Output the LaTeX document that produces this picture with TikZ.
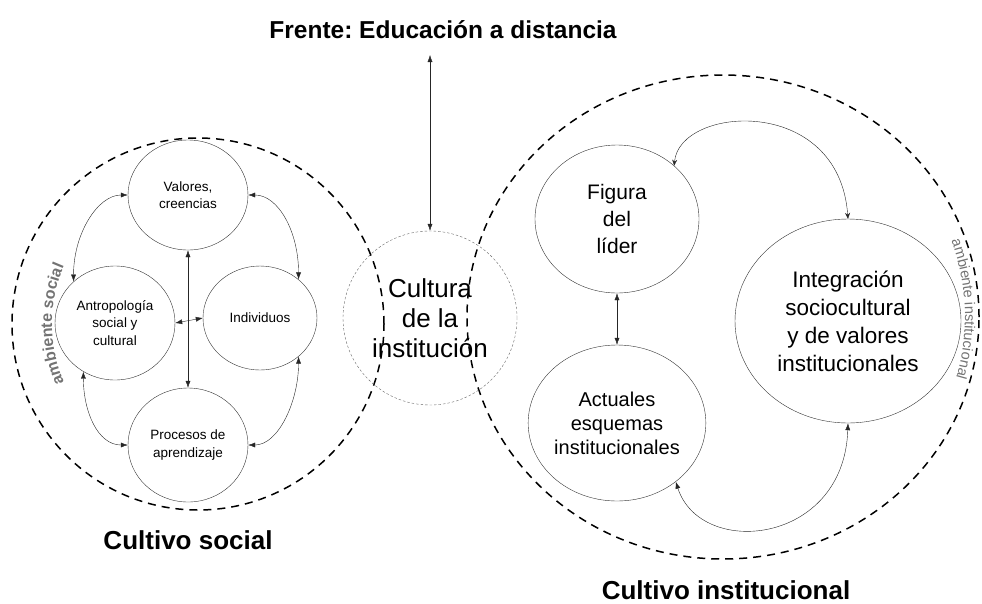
\documentclass[tikz,border=0pt]{standalone}
\usepackage{fontspec}
\setmainfont{Liberation Sans}
\usetikzlibrary{shapes.geometric,arrows.meta,decorations.text}
\newcommand{\fs}[2]{\fontsize{#1}{#2}\selectfont} % Size and leading.
\frenchspacing

\begin{document}
\begin{tikzpicture}[x=1pt,y=-1pt,
  bubble/.style={draw=black!80,ellipse,inner sep=0pt,align=center},
  zone/.style={draw,line width=1.5pt,dash pattern=on 8pt off 6pt,inner sep=0pt},
  link/.style={<->,>={Latex[length=7pt,width=5pt]},black!85},
  thinlink/.style={<->,>={Stealth[length=6pt,width=5pt]},black!85}]
\useasboundingbox (0,0) rectangle (982,603);
% Ambientes.
\node[zone,circle,minimum size=372pt] (soc) at (198,324) {};
\node[zone,ellipse,minimum width=512pt,minimum height=484pt] (inst) at (723,317) {};
\path[decorate,decoration={text along path,text align=center,
  text={|\bfseries\fs{16}{16}\color{black!55}|ambiente social}}]
  (soc.center) ++(154:146) arc[start angle=154,end angle=206,radius=146];
\path[decorate,decoration={text along path,text align=center,
  text={|\fs{14.5}{15}\color{black!55}|ambiente institucional}}]
  (inst.center) ++(-22:242 and 229) arc[start angle=-22,end angle=18,x radius=242,y radius=229];
% Frente y cultura.
\node[anchor=base,font=\bfseries\fs{24.5}{28}] (frente) at (443,38) {Frente: Educación a distancia};
\node[circle,draw=black!60,dash pattern=on 2.5pt off 2pt,minimum size=174pt,inner sep=0pt,
  align=center,font=\fs{26}{30}] (cult) at (430,318) {Cultura\\de la\\institución};
\coordinate (tope) at (430,55);
\draw[link] (tope) -- (cult.north);
% Cultivo social.
\node[bubble,minimum width=120pt,minimum height=110pt,font=\fs{13.5}{17}] (val) at (188,195) {Valores,\\creencias};
\node[bubble,minimum width=120pt,minimum height=114pt,font=\fs{13.5}{17.5}] (ant) at (115,323) {Antropología\\social y\\cultural};
\node[bubble,minimum width=114pt,minimum height=104pt,font=\fs{13.5}{17}] (ind) at (260,318) {Individuos};
\node[bubble,minimum width=120pt,minimum height=114pt,font=\fs{13.5}{18}] (pro) at (188,445) {Procesos de\\aprendizaje};
\draw[link] (val.south) -- (pro.north);
\draw[link] (ant.east) -- (ind.west);
\draw[link] (val.west) .. controls +(-30,0) and +(0,-48) .. (ant.135);
\draw[link] (val.east) .. controls +(30,0) and +(0,-48) .. (ind.45);
\draw[link] (ant.237) .. controls +(0,40) and +(-30,0) .. (pro.west);
\draw[link] (ind.-45) .. controls +(0,45) and +(30,0) .. (pro.east);
\node[anchor=base,font=\bfseries\fs{26}{30}] (csoc) at (188,549) {Cultivo social};
% Cultivo institucional.
\node[bubble,minimum width=164pt,minimum height=148pt,font=\fs{21}{27}] (fig) at (617,219) {Figura\\del\\líder};
\node[bubble,minimum width=164pt,minimum height=156pt,font=\fs{20}{24}] (act) at (617,423) {Actuales\\esquemas\\institucionales};
\node[bubble,minimum width=226pt,minimum height=204pt,font=\fs{22.5}{28}] (int) at (848,321) {Integración\\sociocultural\\y de valores\\institucionales};
\draw[link] (fig.south) -- (act.north);
\draw[thinlink] (fig.43) .. controls +(5,-60) and +(-9,-125) .. (int.north);
\draw[link] (act.-45) .. controls +(25,77) and +(-4,122) .. (int.south);
\node[anchor=base,font=\bfseries\fs{26}{30}] (cinst) at (726,599) {Cultivo institucional};
\end{tikzpicture}
\end{document}
